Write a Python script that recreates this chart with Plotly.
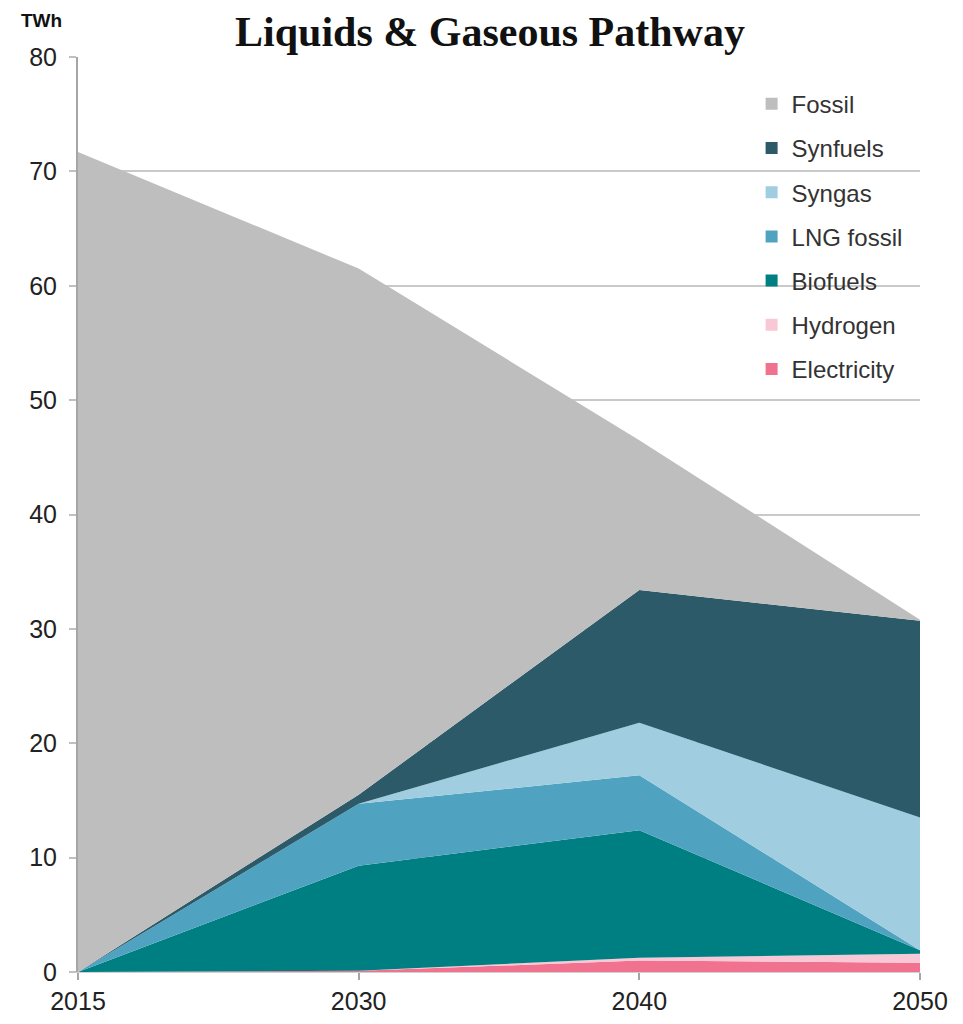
import plotly.graph_objects as go

years = ["2015", "2030", "2040", "2050"]
electricity = [0, 0.1, 1.0, 0.8]
hydrogen = [0, 0, 0.25, 0.8]
biofuels = [0, 9.2, 11.15, 0.3]
lng_fossil = [0, 5.4, 4.8, 0.0]
syngas = [0, 0, 4.6, 11.6]
synfuels = [0, 0.8, 11.6, 17.2]
fossil = [71.7, 46.0, 13.1, 0.1]

series_names = ["Electricity", "Hydrogen", "Biofuels", "LNG fossil", "Syngas", "Synfuels", "Fossil"]
series_values = [electricity, hydrogen, biofuels, lng_fossil, syngas, synfuels, fossil]
series_colors = ["#F0728E", "#F8C8D6", "#007F83", "#4FA3C0", "#A0CDE0", "#2C5A68", "#BEBEBE"]

fig = go.Figure()
for name, vals, col in zip(series_names, series_values, series_colors):
    fig.add_trace(go.Scatter(
        x=years, y=vals, name=name, stackgroup="one", mode="none",
        fillcolor=col, showlegend=False, hoverinfo="x+y+name"))

# legend entries (top to bottom: Fossil ... Electricity)
for i, (name, col) in enumerate(zip(series_names[::-1], series_colors[::-1])):
    fig.add_trace(go.Scatter(
        x=[None], y=[None], mode="markers", name=name, legendgroup=f"g{i}",
        marker=dict(symbol="square", size=12, color=col), showlegend=True))

fig.update_layout(
    width=963, height=1024,
    margin=dict(l=78, r=43, t=57, b=52, autoexpand=False),
    paper_bgcolor="white", plot_bgcolor="white",
    font=dict(family="Liberation Sans, Arial, sans-serif", size=22, color="#333333"),
    showlegend=True,
    legend=dict(
        x=0.80, y=0.973, xanchor="left", yanchor="top",
        bgcolor="rgba(255,255,255,0)", traceorder="grouped", tracegroupgap=10,
        font=dict(size=24, color="#333333"), itemwidth=30),
    xaxis=dict(
        type="category", range=[0, 3], showgrid=False, zeroline=False,
        showline=True, linecolor="#D0D0D0", linewidth=1, automargin=False,
        ticks="outside", ticklen=7, tickcolor="#A6A6A6", tickwidth=2,
        tickfont=dict(size=25, color="#222222")),
    yaxis=dict(
        range=[0, 80], dtick=10, showgrid=True, gridcolor="#C9C9C9", gridwidth=2,
        zeroline=False, showline=True, linecolor="#A6A6A6", linewidth=2, automargin=False,
        ticks="outside", ticklen=7, tickcolor="#C0C0C0", tickwidth=2,
        ticklabelstandoff=7,
        tickfont=dict(size=25, color="#222222")),
    annotations=[
        dict(text="<b>Liquids &amp; Gaseous Pathway</b>", xref="paper", yref="paper",
             x=0.489, y=1.027, xanchor="center", yanchor="middle", showarrow=False,
             font=dict(family="Liberation Serif, Times New Roman, serif", size=42, color="#111111")),
        dict(text="<b>TWh</b>", xref="paper", yref="paper",
             x=-0.043, y=1.04, xanchor="center", yanchor="middle", showarrow=False,
             font=dict(family="Liberation Sans, Arial, sans-serif", size=19, color="#111111")),
    ],
)

fig.write_html("out.html")
